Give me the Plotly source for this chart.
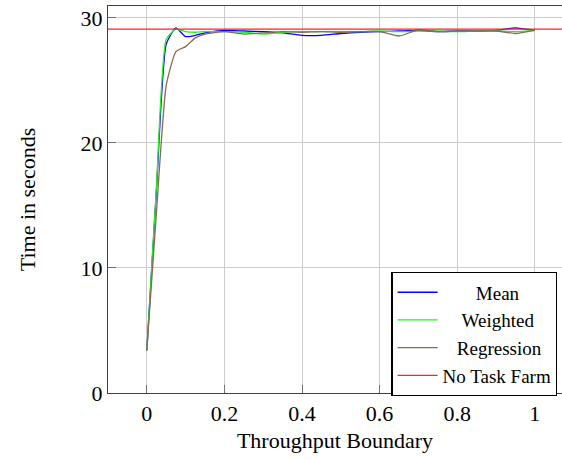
import plotly.graph_objects as go

x = [0, 0.025, 0.05, 0.075, 0.1, 0.125, 0.15, 0.2, 0.25, 0.3, 0.35, 0.4, 0.45,
     0.5, 0.55, 0.6, 0.65, 0.7, 0.75, 0.8, 0.85, 0.9, 0.95, 1.0]
mean = [3.4, 16.3, 27.9, 29.2, 28.5, 28.6, 28.8, 29.0, 28.95, 28.9, 28.8, 28.6, 28.6,
        28.75, 28.85, 28.9, 28.95, 29.0, 28.9, 28.95, 28.95, 29.0, 29.2, 29.0]
weighted = [3.4, 16.6, 28.3, 29.1, 28.9, 28.85, 28.9, 28.9, 28.85, 28.7, 28.85, 28.9, 28.9,
            28.9, 28.9, 28.95, 28.9, 28.95, 28.95, 28.9, 28.95, 28.95, 28.9, 29.0]
regression = [3.4, 14.5, 24.6, 27.3, 27.7, 28.4, 28.7, 28.9, 28.7, 28.8, 28.9, 28.85, 28.9,
              28.85, 28.9, 28.9, 28.55, 29.05, 28.9, 28.95, 28.95, 28.95, 28.75, 29.0]
no_task_farm = 29.1

x_ticks = [0, 0.2, 0.4, 0.6, 0.8, 1]
x_ticklabels = ["0", "0.2", "0.4", "0.6", "0.8", "1"]
y_ticks = [0, 10, 20, 30]

FONT = "Liberation Serif"
NB = "\u00a0"

fig = go.Figure()
fig.add_hline(y=no_task_farm, line=dict(color="#ff2020", width=1.3), layer="above")
fig.add_trace(go.Scatter(x=x, y=mean, name=NB * 7 + "Mean", mode="lines",
                         line=dict(color="#0000ff", width=1.3, shape="spline", smoothing=0.5)))
fig.add_trace(go.Scatter(x=x, y=weighted, name=NB * 4 + "Weighted", mode="lines",
                         line=dict(color="#22ee22", width=1.3, shape="spline", smoothing=0.5)))
fig.add_trace(go.Scatter(x=x, y=regression, name=NB * 3 + "Regression", mode="lines",
                         line=dict(color="#8a6a55", width=1.3, shape="spline", smoothing=0.5)))
fig.add_trace(go.Scatter(x=[None], y=[None], name="No Task Farm", mode="lines",
                         line=dict(color="#ff2020", width=1.3)))

fig.update_layout(
    width=562, height=460,
    margin=dict(l=108, r=0, t=6, b=67),
    paper_bgcolor="white", plot_bgcolor="white",
    font=dict(family=FONT, size=22, color="black"),
    showlegend=True,
    legend=dict(x=0.624, y=-0.008, xanchor="left", yanchor="bottom",
                bgcolor="white", bordercolor="black", borderwidth=1.3,
                font=dict(family=FONT, size=19), itemwidth=40,
                tracegroupgap=0),
)
fig.update_xaxes(
    range=[-0.1, 1.07], tickvals=x_ticks, ticktext=x_ticklabels,
    showgrid=True, gridcolor="#cccccc", gridwidth=1,
    showline=True, linecolor="#404040", linewidth=1.3, mirror=True,
    ticks="inside", ticklen=8, tickcolor="#707070", tickwidth=1,
    zeroline=False,
    title=dict(text="Throughput Boundary", font=dict(family=FONT, size=22), standoff=8),
)
fig.update_yaxes(
    range=[0, 30.95], tickvals=y_ticks,
    showgrid=True, gridcolor="#cccccc", gridwidth=1,
    showline=True, linecolor="#404040", linewidth=1.3, mirror=False,
    ticks="inside", ticklen=8, tickcolor="#707070", tickwidth=1,
    zeroline=False,
    title=dict(text="Time in seconds", font=dict(family=FONT, size=22), standoff=38),
)

fig.write_html("out.html")
